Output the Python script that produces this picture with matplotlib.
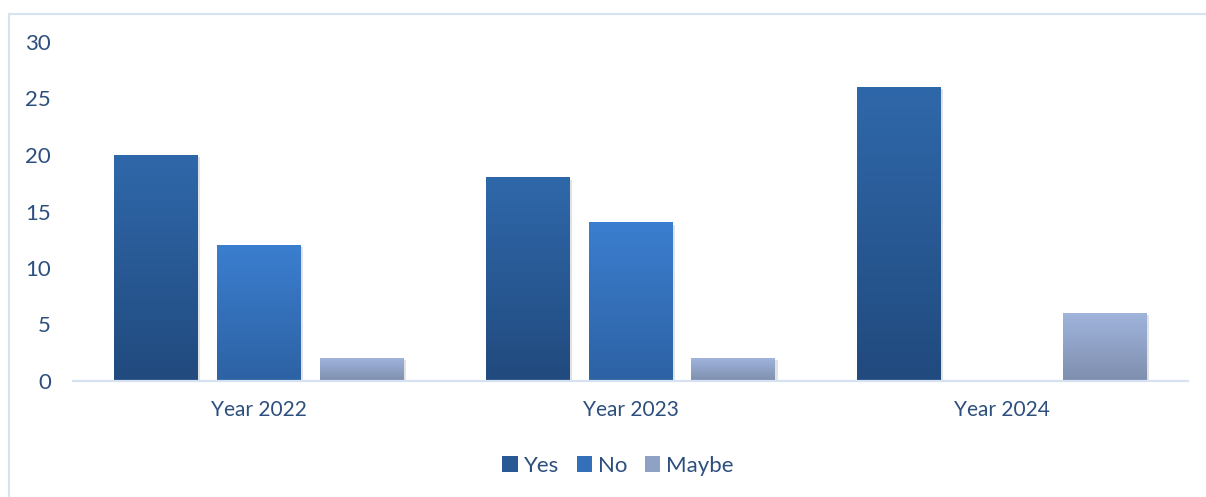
import numpy as np
import matplotlib.pyplot as plt
import matplotlib.patheffects as pe
from matplotlib.lines import Line2D
from matplotlib.patches import Patch
from matplotlib.colors import LinearSegmentedColormap

plt.rcParams['font.family'] = ['Lato', 'DejaVu Sans']

years = ['Year 2022', 'Year 2023', 'Year 2024']
series = ['Yes', 'No', 'Maybe']
yes = [20, 18, 26]
no = [12, 14, 0]
maybe = [2, 2, 6]

# top colour, bottom colour of each series gradient
grad = {
    'Yes': ('#2f68aa', '#214a7e'),
    'No': ('#3b7ecf', '#2d62a4'),
    'Maybe': ('#a0b4dc', '#7e8eae'),
}
text_c = '#2c4f7e'
line_c = '#d6e1f1'

fig = plt.figure(figsize=(12.06, 4.97), dpi=100)
ax = fig.add_axes([73 / 1206, 116 / 497, 1115 / 1206, 339 / 497])

x = np.arange(len(years))
w = 0.226
step = 0.277
values = [yes, no, maybe]

handles = []
for i, (name, vals) in enumerate(zip(series, values)):
    top, bot = grad[name]
    cmap = LinearSegmentedColormap.from_list(name, [bot, top])
    bars = ax.bar(x + (i - 1) * step, vals, width=w, color=cmap(0.5), zorder=2,
                  path_effects=[pe.SimplePatchShadow(offset=(1.5, -1.5), shadow_rgbFace='#8c8c8c', alpha=0.25),
                                pe.Normal()])
    for b in bars:
        h = b.get_height()
        if h <= 0:
            continue
        x0 = b.get_x()
        ax.imshow(np.linspace(1, 0, 256).reshape(-1, 1), cmap=cmap, aspect='auto',
                  extent=[x0, x0 + b.get_width(), 0, h], zorder=3, interpolation='bicubic')
    handles.append(Patch(facecolor=cmap(0.5), label=name))

ax.set_xlim(-0.5, 2.5)
ax.set_ylim(0, 30)
ax.set_yticks(range(0, 31, 5))
ax.set_xticks(x)
ax.set_xticklabels(years)
for s in ['top', 'right', 'left']:
    ax.spines[s].set_visible(False)
ax.spines['bottom'].set_color(line_c)
ax.spines['bottom'].set_linewidth(1.6)
ax.spines['bottom'].set_zorder(4)
ax.tick_params(length=0, labelsize=15, labelcolor=text_c)
ax.tick_params(axis='y', pad=16, labelsize=16)
ax.tick_params(axis='x', pad=14)

ax.legend(handles=handles, loc='center', bbox_to_anchor=(618 / 1206, 31 / 497), bbox_transform=fig.transFigure,
          ncol=3, frameon=False, fontsize=16, labelcolor=text_c, handlelength=0.7, handleheight=0.7,
          handletextpad=0.25, columnspacing=0.8)

# chart area outline (top and left edges)
fig.add_artist(Line2D([8.5 / 1206, 8.5 / 1206], [0, 1 - 13.5 / 497], color=line_c, lw=1.5))
fig.add_artist(Line2D([8.5 / 1206, 1], [1 - 13.5 / 497, 1 - 13.5 / 497], color=line_c, lw=1.5))

fig.savefig('out.png', dpi=100)
